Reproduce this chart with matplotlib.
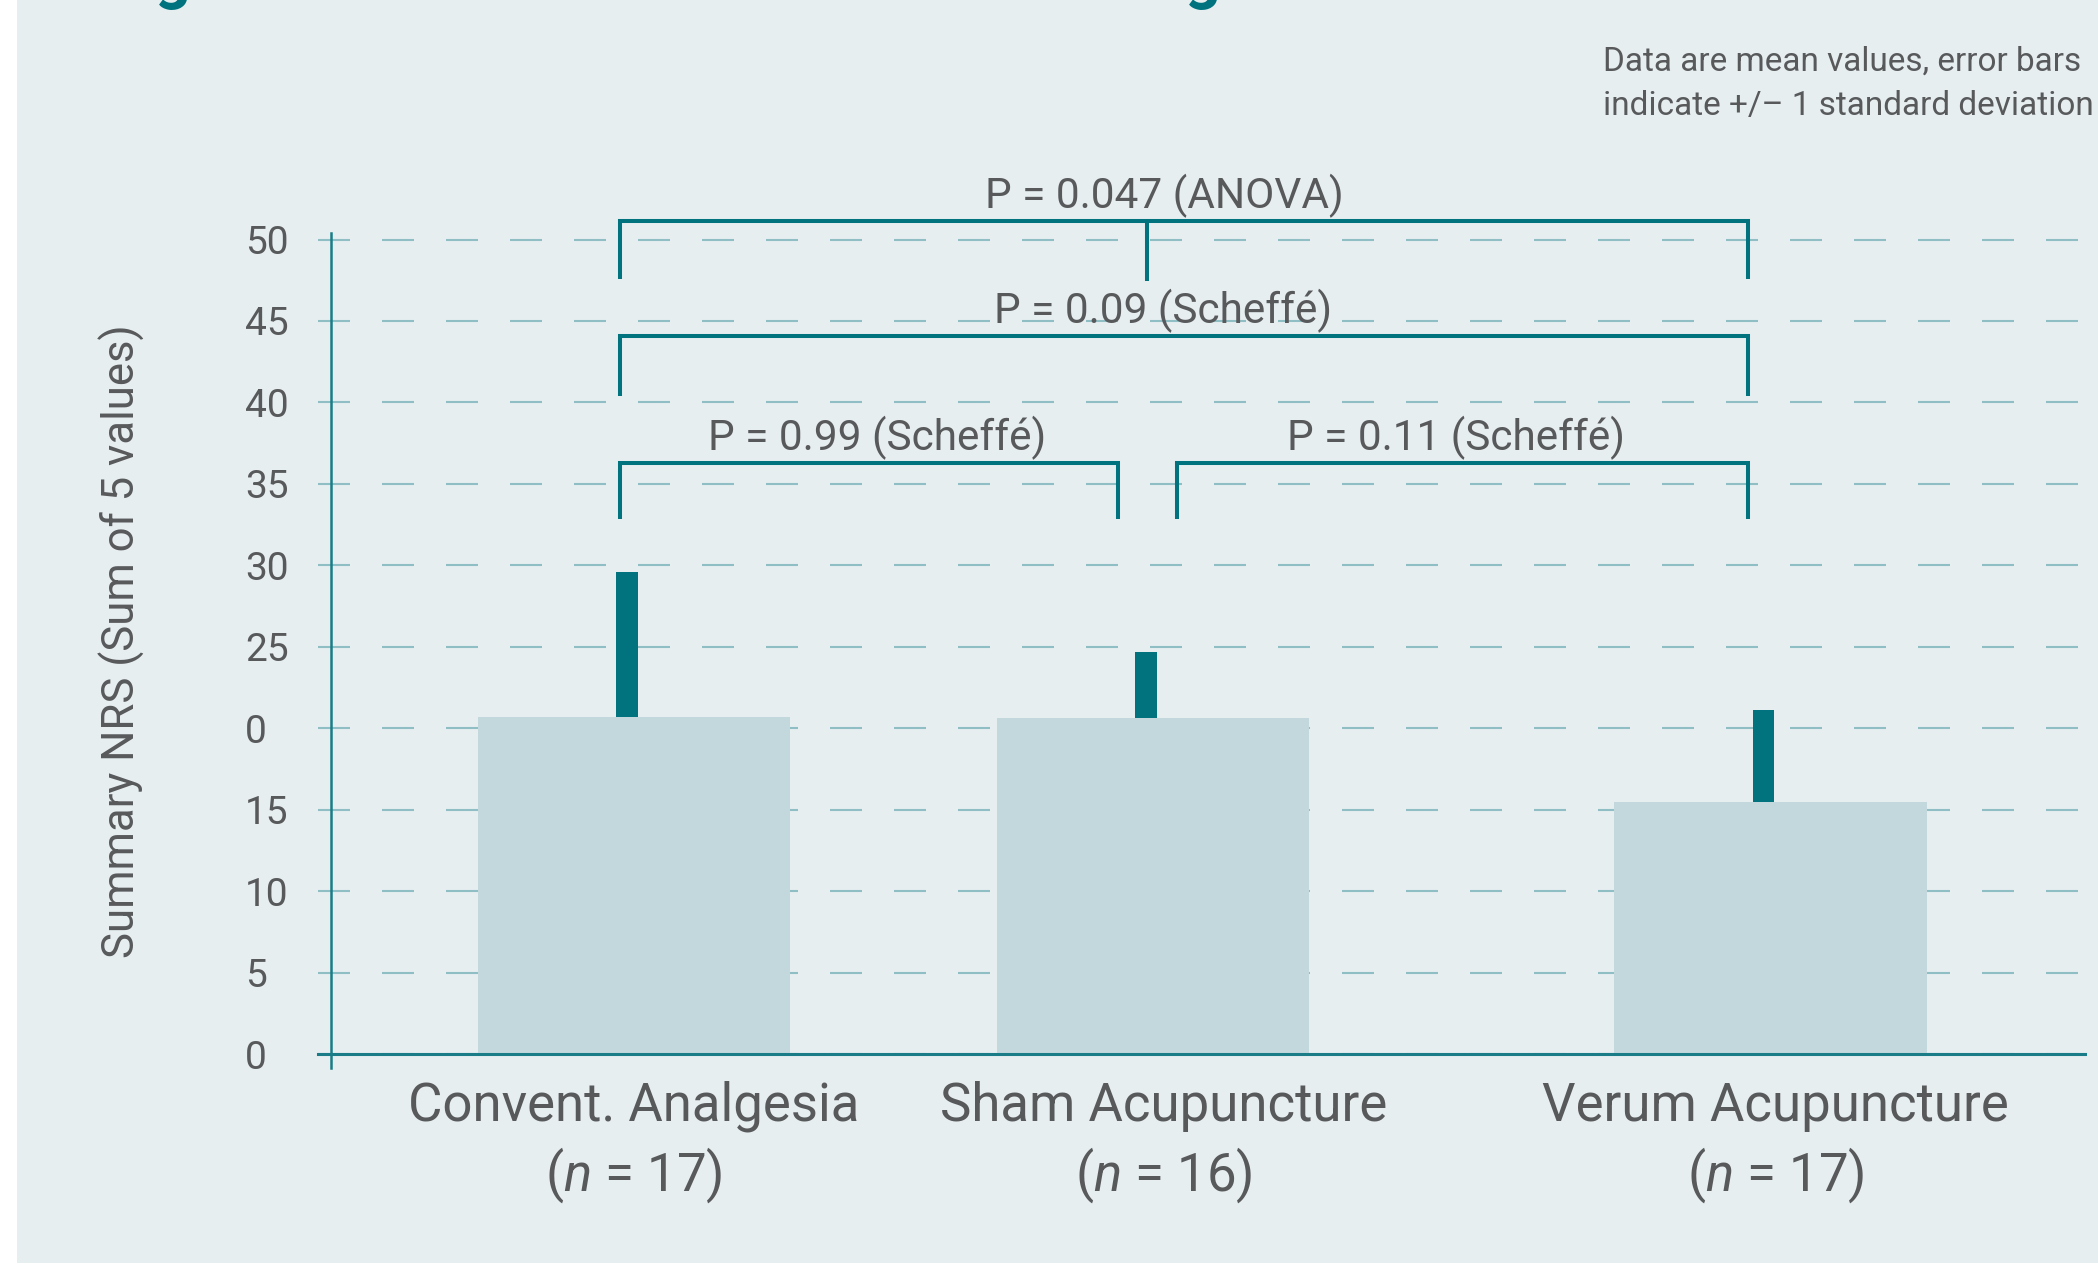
import matplotlib
matplotlib.use("Agg")
import matplotlib.pyplot as plt
from matplotlib.patches import Rectangle

# ---------------- data ----------------
categories = ["Convent. Analgesia", "Sham Acupuncture", "Verum Acupuncture"]
group_sizes = ["17", "16", "17"]
means = [20.7, 20.6, 15.5]
sds = [8.9, 4.1, 5.6]
ytick_values = [0, 5, 10, 15, 20, 25, 30, 35, 40, 45, 50]
ytick_labels = ["0", "5", "10", "15", "0", "25", "30", "35", "40", "45", "50"]
p_texts = ["P = 0.047 (ANOVA)", "P = 0.09 (Scheffé)", "P = 0.99 (Scheffé)", "P = 0.11 (Scheffé)"]
ylabel = "Summary NRS (Sum of 5 values)"
note_lines = ["Data are mean values, error bars", "indicate +/\u2013 1 standard deviation"]

# ---------------- layout / style ----------------
positions = [0.0, 1.0, 2.189]
label_positions = [0.0, 1.021, 2.200]
bar_width = 0.603
err_width = 0.0405
err_offset = -0.0135

BG = "#e6eef0"
BAR = "#c3d8dc"
TEAL = "#00737e"
AXIS = "#197c86"
GRID = "#8fbec5"
TXT = "#58595b"

plt.rcParams["font.family"] = ["Roboto", "DejaVu Sans"]
plt.rcParams["mathtext.fontset"] = "custom"
plt.rcParams["mathtext.rm"] = "Roboto"
plt.rcParams["mathtext.it"] = "Roboto:italic"
plt.rcParams["lines.scale_dashes"] = False

W, H = 2098, 1265
fig = plt.figure(figsize=(W / 100, H / 100), dpi=100)
fig.patch.set_facecolor("white")
fig.add_artist(Rectangle((17 / W, 2 / H), 1 - 17 / W, 1 - 2 / H,
                         transform=fig.transFigure, facecolor=BG,
                         edgecolor="none", zorder=0))

ax = fig.add_axes([318 / W, 0.14104, 1767 / W, 0.72114])
ax.set_facecolor("none")

# spines (positioned first: moving a spine resets its axis ticks)
for s in ["top", "right"]:
    ax.spines[s].set_visible(False)
ax.spines["bottom"].set_position(("data", 0))
ax.spines["bottom"].set_color(AXIS)
ax.spines["bottom"].set_linewidth(2.2)
ax.spines["left"].set_position(("data", -0.5838))
ax.spines["left"].set_bounds(-0.86, 50.4)
ax.spines["left"].set_color(AXIS)
ax.spines["left"].set_linewidth(1.8)

ax.set_xlim(-0.60886, 2.79576)
ax.set_ylim(-2, 54)

# bars
ax.bar(positions, means, width=bar_width, color=BAR, zorder=1, linewidth=0)
# error bars (upper only, drawn as thick teal blocks)
ax.bar([p + err_offset for p in positions], sds, bottom=means, width=err_width,
       color=TEAL, zorder=2, linewidth=0)

# ticks and grid
ax.set_axisbelow(True)
ax.set_xticks([])
ax.set_yticks(ytick_values)
ax.set_yticklabels(ytick_labels)
ax.tick_params(axis="y", length=0, pad=62, labelsize=28, labelcolor=TXT)
for lab in ax.get_yticklabels():
    lab.set_horizontalalignment("left")
ax.yaxis.grid(True, color=GRID, linewidth=1.5, linestyle=(0, (23.04, 23.04)))

# significance brackets
lw_b = 2.9
def bracket(x0, x1, ytop, ybot, mid=None):
    ax.plot([x0, x0, x1, x1], [ybot, ytop, ytop, ybot], color=TEAL, lw=lw_b,
            solid_joinstyle="miter", solid_capstyle="butt", clip_on=False, zorder=3)
    if mid is not None:
        ax.plot([mid, mid], [ytop, ybot - 0.15], color=TEAL, lw=lw_b,
                solid_capstyle="butt", clip_on=False, zorder=3)

bracket(-0.027, 2.146, 51.15, 47.6, mid=0.988)
bracket(-0.027, 2.146, 44.08, 40.39)
bracket(-0.027, 0.9326, 36.28, 32.84)
bracket(1.046, 2.146, 36.28, 32.84)

p_font = 30.5
ax.text(1.022, 51.93, p_texts[0], ha="center", va="baseline", fontsize=p_font, color=TXT, zorder=4)
ax.text(1.020, 44.87, p_texts[1], ha="center", va="baseline", fontsize=p_font, color=TXT, zorder=4)
ax.text(0.469, 37.08, p_texts[2], ha="center", va="baseline", fontsize=p_font, color=TXT, zorder=4)
ax.text(1.584, 37.08, p_texts[3], ha="center", va="baseline", fontsize=p_font, color=TXT, zorder=4)

# category labels
for xp, name, n in zip(label_positions, categories, group_sizes):
    ax.text(xp, -4.11, name, ha="center", va="baseline", fontsize=38, color=TXT)
    ax.text(xp, -8.41, "($n$ = " + n + ")", ha="center", va="baseline", fontsize=38, color=TXT)

# y label
ax.text(-0.942, 25.35, ylabel, rotation=90, ha="right", va="center",
        fontsize=31.5, color=TXT)

# note at top right
fig.text(1603 / W, 1 - 71 / H, note_lines[0], ha="left", va="baseline", fontsize=24, color=TXT)
fig.text(1603 / W, 1 - 115 / H, note_lines[1], ha="left", va="baseline", fontsize=24, color=TXT)

# cut-off title remnants at the very top
fig.text(155 / W, 1 + 3 / H, "g", ha="left", va="baseline", fontsize=45,
         fontweight="bold", color=TEAL)
fig.text(1185 / W, 1 + 3 / H, "g", ha="left", va="baseline", fontsize=45,
         fontweight="bold", color=TEAL)

fig.savefig("out.png", dpi=100, facecolor=fig.get_facecolor())
